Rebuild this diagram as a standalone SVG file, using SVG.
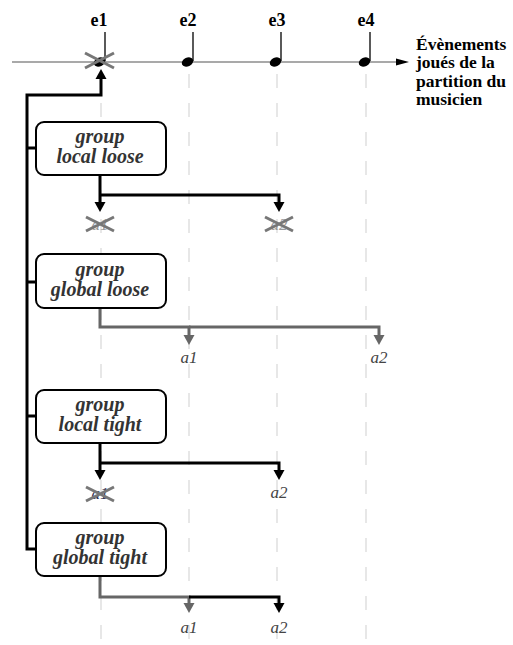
<svg xmlns="http://www.w3.org/2000/svg" width="513" height="645" viewBox="0 0 513 645">
<style>
.grid{stroke:#cfcfcf;stroke-width:1;stroke-dasharray:14 15;fill:none}
.bx{fill:#fff;stroke:#000;stroke-width:2}
text{font-family:'Liberation Serif','Times New Roman',serif}
.bt{font-size:20px;font-weight:bold;font-style:italic;fill:#333;text-anchor:middle}
.ev{font-size:18px;font-weight:bold;fill:#000;text-anchor:middle}
.rt{font-size:17.5px;font-weight:bold;fill:#000}
.al{font-size:17px;font-style:italic;fill:#444;text-anchor:middle}
.k{fill:none;stroke:#000;stroke-width:3}
.g{fill:none;stroke:#666;stroke-width:3}
.x{stroke:#777;stroke-width:3;fill:none}
.stem{stroke:#000;stroke-width:1.3}
</style>
<defs>
<marker id="ak" markerUnits="userSpaceOnUse" markerWidth="12" markerHeight="12" refX="0" refY="6" orient="auto" viewBox="0 0 12 12"><path d="M0,0.5 L10,6 L0,11.5 Z" fill="#000"/></marker>
<marker id="ag" markerUnits="userSpaceOnUse" markerWidth="12" markerHeight="12" refX="0" refY="6" orient="auto" viewBox="0 0 12 12"><path d="M0,0.5 L10,6 L0,11.5 Z" fill="#666"/></marker>
</defs>
<g id="grid">
<line class="grid" x1="101" y1="74" x2="101" y2="645"/>
<line class="grid" x1="189" y1="74" x2="189" y2="645"/>
<line class="grid" x1="277" y1="74" x2="277" y2="645"/>
<line class="grid" x1="366" y1="74" x2="366" y2="645"/>
</g>
<g id="timeline">
<line x1="12" y1="62" x2="398" y2="62" stroke="#555" stroke-width="1.2"/>
<polygon points="396,58.5 409,62 396,65.5" fill="#000"/>
<text class="rt" x="416" y="50">Évènements</text>
<text class="rt" x="416" y="68.3">joués de la</text>
<text class="rt" x="416" y="86.6">partition du</text>
<text class="rt" x="416" y="105">musicien</text>
</g>
<g id="e1">
<text class="ev" x="99" y="26">e1</text>
<line class="stem" x1="105" y1="32" x2="105" y2="61"/>
<ellipse cx="99.5" cy="62" rx="6" ry="4.3" transform="rotate(-25 99.5 62)" fill="#000"/>
<path class="x" d="M85,53 L114,68 M85,68 L114,53"/>
</g>
<g id="e2">
<text class="ev" x="188" y="26">e2</text>
<line class="stem" x1="193" y1="32" x2="193" y2="61"/>
<ellipse cx="187.5" cy="62" rx="6" ry="4.3" transform="rotate(-25 187.5 62)" fill="#000"/>
</g>
<g id="e3">
<text class="ev" x="277" y="26">e3</text>
<line class="stem" x1="281" y1="32" x2="281" y2="61"/>
<ellipse cx="275.5" cy="62" rx="6" ry="4.3" transform="rotate(-25 275.5 62)" fill="#000"/>
</g>
<g id="e4">
<text class="ev" x="366" y="26">e4</text>
<line class="stem" x1="370" y1="32" x2="370" y2="61"/>
<ellipse cx="364.5" cy="62" rx="6" ry="4.3" transform="rotate(-25 364.5 62)" fill="#000"/>
</g>
<g id="connectors">
<path class="k" d="M36,549 H27 V95 H101 V79" marker-end="url(#ak)"/>
<path class="k" d="M27,148 H36 M27,282 H36 M27,416 H36"/>
<path class="k" d="M100,175 V202" marker-end="url(#ak)"/>
<path class="k" d="M100,195 H279 V202" marker-end="url(#ak)"/>
<path class="g" d="M100,308 V327 H189 V335" marker-end="url(#ag)"/>
<path class="g" d="M189,327 H379 V335" marker-end="url(#ag)"/>
<path class="k" d="M100,443 V470" marker-end="url(#ak)"/>
<path class="k" d="M100,463 H279 V470" marker-end="url(#ak)"/>
<path class="g" d="M100,576 V597 H189 V603" marker-end="url(#ag)"/>
<path class="k" d="M189,597 H279 V603" marker-end="url(#ak)"/>
</g>
<g id="group-local-loose">
<rect class="bx" x="36" y="122" width="130" height="53" rx="8"/>
<text class="bt" x="100" y="143">group</text>
<text class="bt" x="100" y="163">local loose</text>
</g>
<g id="group-global-loose">
<rect class="bx" x="36" y="254" width="130" height="54" rx="8"/>
<text class="bt" x="100" y="276">group</text>
<text class="bt" x="100" y="296">global loose</text>
</g>
<g id="group-local-tight">
<rect class="bx" x="36" y="390" width="130" height="53" rx="8"/>
<text class="bt" x="100" y="411">group</text>
<text class="bt" x="100" y="431">local tight</text>
</g>
<g id="group-global-tight">
<rect class="bx" x="36" y="523" width="130" height="53" rx="8"/>
<text class="bt" x="100" y="544">group</text>
<text class="bt" x="100" y="564">global tight</text>
</g>
<g id="labels">
<text class="al" x="100" y="230" style="fill:#999">a1</text>
<path class="x" d="M86,217 L114,231 M86,231 L114,217"/>
<text class="al" x="279" y="230" style="fill:#999">a2</text>
<path class="x" d="M265,217 L293,231 M265,231 L293,217"/>
<text class="al" x="189" y="363">a1</text>
<text class="al" x="379" y="363">a2</text>
<text class="al" x="100" y="499" style="fill:#335">a1</text>
<path class="x" d="M86,487 L114,501 M86,501 L114,487"/>
<text class="al" x="279" y="498">a2</text>
<text class="al" x="189" y="633">a1</text>
<text class="al" x="279" y="633">a2</text>
</g>
</svg>
